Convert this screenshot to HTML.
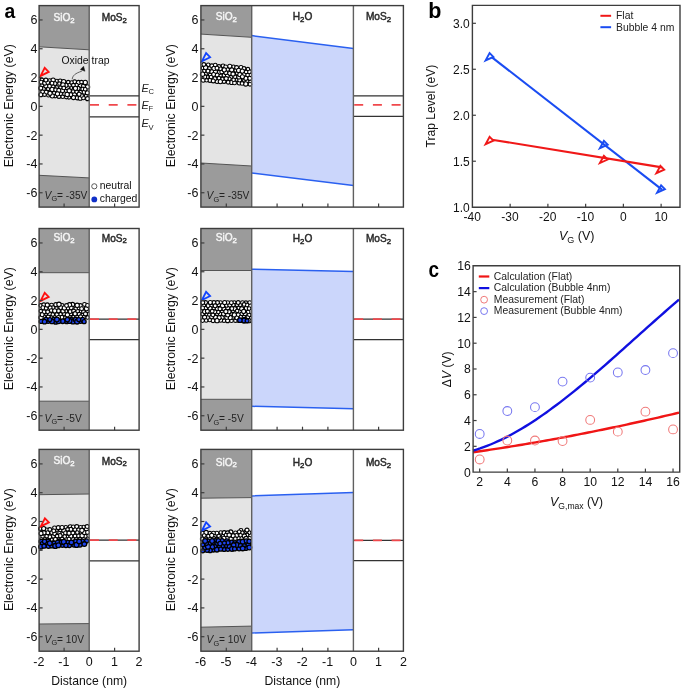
<!DOCTYPE html><html><head><meta charset="utf-8"><style>html,body{margin:0;padding:0;background:#fff;}svg{display:block;will-change:transform}</style></head><body>
<svg width="685" height="691" viewBox="0 0 685 691">
<rect width="685" height="691" fill="#fff"/>
<rect x="39.1" y="5.6" width="50.1" height="201.5" fill="#e4e4e4"/><path d="M39.1,5.6 L89.2,5.6 L89.2,49.8 L39.1,46.8 Z" fill="#9b9b9b"/><path d="M39.1,175.3 L89.2,177.9 L89.2,207.1 L39.1,207.1 Z" fill="#9b9b9b"/><path d="M39.1,46.8 L89.2,49.8 M39.1,175.3 L89.2,177.9" stroke="#555" stroke-width="1" fill="none"/>
<path d="M89.2,95.8 L139.1,95.8 M89.2,116.8 L139.1,116.8" stroke="#333" stroke-width="1.3" fill="none"/><path d="M90.0,104.8 L139.1,104.8" stroke="#f0484c" stroke-width="1.8" stroke-dasharray="9 9.7" fill="none"/>
<g stroke="#000" stroke-width="1.1" fill="#fff"><circle cx="74.48" cy="94.29" r="2.08"/><circle cx="56.93" cy="81.15" r="1.88"/><circle cx="65.97" cy="90.69" r="2.05"/><circle cx="77.35" cy="97.76" r="2.09"/><circle cx="41.88" cy="79.88" r="1.80"/><circle cx="70.81" cy="87.83" r="1.87"/><circle cx="41.95" cy="85.99" r="2.17"/><circle cx="73.19" cy="91.44" r="1.72"/><circle cx="69.18" cy="85.19" r="2.11"/><circle cx="58.95" cy="96.42" r="1.96"/><circle cx="54.05" cy="93.16" r="1.79"/><circle cx="43.71" cy="88.56" r="1.91"/><circle cx="46.28" cy="92.41" r="2.14"/><circle cx="60.14" cy="81.06" r="2.10"/><circle cx="68.91" cy="97.22" r="1.94"/><circle cx="66.33" cy="97.02" r="1.86"/><circle cx="74.64" cy="81.86" r="1.96"/><circle cx="67.33" cy="87.71" r="2.04"/><circle cx="60.66" cy="87.59" r="1.86"/><circle cx="84.14" cy="92.21" r="2.03"/><circle cx="40.77" cy="88.16" r="2.00"/><circle cx="49.64" cy="80.78" r="2.00"/><circle cx="55.13" cy="96.11" r="1.79"/><circle cx="53.14" cy="80.10" r="2.12"/><circle cx="73.47" cy="97.59" r="2.05"/><circle cx="71.55" cy="82.45" r="1.74"/><circle cx="80.49" cy="85.46" r="2.10"/><circle cx="78.10" cy="88.44" r="2.02"/><circle cx="59.35" cy="83.57" r="1.72"/><circle cx="78.46" cy="82.46" r="2.08"/><circle cx="86.30" cy="96.20" r="1.95"/><circle cx="48.44" cy="95.23" r="1.83"/><circle cx="87.54" cy="98.64" r="2.01"/><circle cx="76.54" cy="85.06" r="1.75"/><circle cx="55.05" cy="83.59" r="1.91"/><circle cx="53.18" cy="86.79" r="1.86"/><circle cx="48.12" cy="88.86" r="1.74"/><circle cx="65.87" cy="85.21" r="2.15"/><circle cx="80.29" cy="98.14" r="2.13"/><circle cx="85.24" cy="82.44" r="2.17"/><circle cx="42.58" cy="91.84" r="1.88"/><circle cx="62.70" cy="96.72" r="1.75"/><circle cx="40.83" cy="94.77" r="2.00"/><circle cx="41.24" cy="82.15" r="1.85"/><circle cx="83.40" cy="97.89" r="1.82"/><circle cx="80.53" cy="92.15" r="1.74"/><circle cx="44.54" cy="94.65" r="1.72"/><circle cx="52.08" cy="89.40" r="2.16"/><circle cx="45.82" cy="86.00" r="1.99"/><circle cx="44.80" cy="83.07" r="2.09"/><circle cx="56.79" cy="87.33" r="1.73"/><circle cx="49.51" cy="86.17" r="1.86"/><circle cx="62.45" cy="90.67" r="2.16"/><circle cx="55.72" cy="89.79" r="1.93"/><circle cx="87.36" cy="92.81" r="2.06"/><circle cx="60.66" cy="93.76" r="1.81"/><circle cx="83.33" cy="86.55" r="2.04"/><circle cx="51.98" cy="83.14" r="1.88"/><circle cx="69.20" cy="90.77" r="2.17"/><circle cx="64.63" cy="93.88" r="1.85"/><circle cx="63.70" cy="81.71" r="2.15"/><circle cx="73.39" cy="85.21" r="1.85"/><circle cx="62.99" cy="84.88" r="2.18"/><circle cx="82.70" cy="88.97" r="1.82"/><circle cx="47.75" cy="82.60" r="1.85"/><circle cx="52.26" cy="95.84" r="2.11"/><circle cx="76.65" cy="91.76" r="1.73"/><circle cx="63.78" cy="87.94" r="1.83"/><circle cx="58.79" cy="90.41" r="1.99"/><circle cx="81.53" cy="95.45" r="1.87"/><circle cx="70.79" cy="94.70" r="1.91"/><circle cx="67.15" cy="94.48" r="2.18"/><circle cx="87.54" cy="86.88" r="2.14"/><circle cx="45.88" cy="80.09" r="1.96"/><circle cx="79.09" cy="94.31" r="2.00"/><circle cx="81.47" cy="82.12" r="1.78"/><circle cx="57.47" cy="93.85" r="2.14"/><circle cx="68.19" cy="82.12" r="1.72"/><circle cx="50.02" cy="93.20" r="2.12"/><circle cx="75.43" cy="88.37" r="2.12"/><circle cx="85.23" cy="89.29" r="1.81"/></g>
<path d="M40.60,75.90 L44.70,67.80 L48.70,71.90 Z" fill="none" stroke="#ff1010" stroke-width="1.8" stroke-linejoin="miter"/>
<path d="M39.1,19.95 L42.6,19.95" stroke="#3d3d3d" stroke-width="1.2"/><path d="M39.1,48.75 L42.6,48.75" stroke="#3d3d3d" stroke-width="1.2"/><path d="M39.1,77.55 L42.6,77.55" stroke="#3d3d3d" stroke-width="1.2"/><path d="M39.1,106.35 L42.6,106.35" stroke="#3d3d3d" stroke-width="1.2"/><path d="M39.1,135.15 L42.6,135.15" stroke="#3d3d3d" stroke-width="1.2"/><path d="M39.1,163.95 L42.6,163.95" stroke="#3d3d3d" stroke-width="1.2"/><path d="M39.1,192.75 L42.6,192.75" stroke="#3d3d3d" stroke-width="1.2"/><path d="M64.1,207.1 L64.1,203.6" stroke="#3d3d3d" stroke-width="1.2"/><path d="M114.6,207.1 L114.6,203.6" stroke="#3d3d3d" stroke-width="1.2"/><path d="M89.2,5.6 L89.2,207.1" stroke="#606060" stroke-width="1.4"/><rect x="39.1" y="5.6" width="100.0" height="201.5" fill="none" stroke="#3d3d3d" stroke-width="1.4"/>
<g font-family='"Liberation Sans", sans-serif' font-size="12.5" fill="#111" text-anchor="end"><text x="37.4" y="24.35">6</text><text x="37.4" y="53.15">4</text><text x="37.4" y="81.95">2</text><text x="37.4" y="110.75">0</text><text x="37.4" y="139.55">-2</text><text x="37.4" y="168.35">-4</text><text x="37.4" y="197.15">-6</text></g>
<text transform="translate(12.6,105.64999999999999) rotate(-90)" text-anchor="middle" font-family='"Liberation Sans", sans-serif' font-size="12.3" fill="#111">Electronic Energy (eV)</text>
<text x="64.0" y="21.1" text-anchor="middle" font-family='"Liberation Sans", sans-serif' font-size="10.15" fill="#f4f4f4" stroke="#f4f4f4" stroke-width="0.45">SiO<tspan font-size="7.8" dy="1.8">2</tspan><tspan dy="-1.8"></tspan></text>
<text x="114.3" y="21.3" text-anchor="middle" font-family='"Liberation Sans", sans-serif' font-size="10.15" fill="#2a2a2a" stroke="#2a2a2a" stroke-width="0.45">MoS<tspan font-size="7.8" dy="1.8">2</tspan><tspan dy="-1.8"></tspan></text>
<text x="44.6" y="199.1" font-family='"Liberation Sans", sans-serif' font-size="10.2" fill="#222"><tspan font-style="italic">V</tspan><tspan font-size="7.3" dy="2.2">G</tspan><tspan dy="-2.2">= -35V</tspan></text>
<rect x="39.1" y="228.5" width="50.1" height="201.7" fill="#e4e4e4"/><path d="M39.1,228.5 L89.2,228.5 L89.2,272.7 L39.1,272.7 Z" fill="#9b9b9b"/><path d="M39.1,401.2 L89.2,401.2 L89.2,430.2 L39.1,430.2 Z" fill="#9b9b9b"/><path d="M39.1,272.7 L89.2,272.7 M39.1,401.2 L89.2,401.2" stroke="#555" stroke-width="1" fill="none"/>
<path d="M89.2,319.2 L139.1,319.2 M89.2,339.6 L139.1,339.6" stroke="#333" stroke-width="1.3" fill="none"/><path d="M90.0,319.2 L139.1,319.2" stroke="#f0484c" stroke-width="1.8" stroke-dasharray="9 9.7" fill="none"/>
<g stroke="#000" stroke-width="1.1" fill="#fff"><circle cx="61.99" cy="305.72" r="2.15"/><circle cx="82.26" cy="314.95" r="1.84"/><circle cx="60.80" cy="307.75" r="2.02"/><circle cx="60.50" cy="314.32" r="1.92"/><circle cx="54.78" cy="317.44" r="1.88"/><circle cx="51.42" cy="317.44" r="1.77"/><circle cx="70.76" cy="313.84" r="2.05"/><circle cx="61.87" cy="317.44" r="2.03"/><circle cx="67.98" cy="308.22" r="1.74"/><circle cx="73.83" cy="317.31" r="2.18"/><circle cx="84.53" cy="304.44" r="1.92"/><circle cx="45.61" cy="314.79" r="1.76"/><circle cx="78.82" cy="308.75" r="1.97"/><circle cx="51.56" cy="305.08" r="1.85"/><circle cx="69.34" cy="316.86" r="1.81"/><circle cx="46.09" cy="308.20" r="1.89"/><circle cx="44.10" cy="311.92" r="1.99"/><circle cx="53.26" cy="307.62" r="1.82"/><circle cx="70.18" cy="311.60" r="1.95"/><circle cx="80.40" cy="305.51" r="1.92"/><circle cx="80.11" cy="311.82" r="2.00"/><circle cx="65.50" cy="317.44" r="1.77"/><circle cx="49.46" cy="313.68" r="2.06"/><circle cx="47.66" cy="311.85" r="1.88"/><circle cx="55.83" cy="304.69" r="2.03"/><circle cx="72.51" cy="304.53" r="2.16"/><circle cx="44.04" cy="317.10" r="2.06"/><circle cx="41.05" cy="317.44" r="2.16"/><circle cx="40.77" cy="305.45" r="1.86"/><circle cx="56.47" cy="308.46" r="1.78"/><circle cx="87.34" cy="310.91" r="1.76"/><circle cx="65.78" cy="311.33" r="1.99"/><circle cx="56.94" cy="314.60" r="1.97"/><circle cx="64.30" cy="313.77" r="1.94"/><circle cx="40.77" cy="311.08" r="1.73"/><circle cx="62.95" cy="310.95" r="2.07"/><circle cx="77.41" cy="311.30" r="2.08"/><circle cx="71.23" cy="307.81" r="1.94"/><circle cx="86.44" cy="308.66" r="2.10"/><circle cx="67.40" cy="314.85" r="2.16"/><circle cx="79.19" cy="314.23" r="1.88"/><circle cx="58.43" cy="317.44" r="2.01"/><circle cx="48.19" cy="317.16" r="2.04"/><circle cx="76.68" cy="317.44" r="2.12"/><circle cx="87.54" cy="305.45" r="1.91"/><circle cx="69.49" cy="304.82" r="2.15"/><circle cx="42.17" cy="314.76" r="1.95"/><circle cx="43.85" cy="304.87" r="1.99"/><circle cx="83.61" cy="311.85" r="1.94"/><circle cx="80.63" cy="316.90" r="1.99"/><circle cx="58.44" cy="310.89" r="2.00"/><circle cx="87.54" cy="317.44" r="1.81"/><circle cx="75.57" cy="308.65" r="1.74"/><circle cx="64.38" cy="307.93" r="2.15"/><circle cx="50.16" cy="307.80" r="1.89"/><circle cx="77.19" cy="305.33" r="2.17"/><circle cx="47.27" cy="304.97" r="2.08"/><circle cx="84.15" cy="316.99" r="1.76"/><circle cx="85.49" cy="313.90" r="2.01"/><circle cx="51.22" cy="310.59" r="1.78"/><circle cx="81.60" cy="308.65" r="1.92"/><circle cx="52.82" cy="314.38" r="1.76"/><circle cx="66.53" cy="305.54" r="1.90"/><circle cx="73.64" cy="311.05" r="1.90"/><circle cx="54.74" cy="310.86" r="2.12"/><circle cx="75.07" cy="313.67" r="2.05"/><circle cx="42.83" cy="307.64" r="1.84"/><circle cx="58.97" cy="304.34" r="2.18"/></g>
<g stroke="#000" stroke-width="1.3" fill="#1e44f0"><circle cx="71.13" cy="319.56" r="2.27"/><circle cx="72.95" cy="321.64" r="2.22"/><circle cx="80.68" cy="321.36" r="2.00"/><circle cx="66.66" cy="321.64" r="2.05"/><circle cx="75.55" cy="319.56" r="2.30"/><circle cx="77.07" cy="321.64" r="2.37"/><circle cx="82.60" cy="319.56" r="2.19"/><circle cx="48.08" cy="321.31" r="2.07"/><circle cx="55.74" cy="321.64" r="2.43"/><circle cx="53.83" cy="319.56" r="2.22"/><circle cx="62.65" cy="321.22" r="2.29"/><circle cx="69.46" cy="320.95" r="2.45"/><circle cx="78.78" cy="319.56" r="2.01"/><circle cx="45.93" cy="319.56" r="2.17"/><circle cx="58.57" cy="321.27" r="2.32"/><circle cx="84.11" cy="321.64" r="2.01"/><circle cx="52.01" cy="321.39" r="2.29"/><circle cx="49.81" cy="319.56" r="1.99"/><circle cx="56.92" cy="319.56" r="2.37"/><circle cx="41.17" cy="321.41" r="2.04"/><circle cx="44.53" cy="321.63" r="2.19"/><circle cx="67.35" cy="319.56" r="2.22"/></g>
<path d="M40.60,300.90 L44.70,292.80 L48.70,296.90 Z" fill="none" stroke="#ff1010" stroke-width="1.8" stroke-linejoin="miter"/>
<path d="M39.1,242.95 L42.6,242.95" stroke="#3d3d3d" stroke-width="1.2"/><path d="M39.1,271.75 L42.6,271.75" stroke="#3d3d3d" stroke-width="1.2"/><path d="M39.1,300.55 L42.6,300.55" stroke="#3d3d3d" stroke-width="1.2"/><path d="M39.1,329.35 L42.6,329.35" stroke="#3d3d3d" stroke-width="1.2"/><path d="M39.1,358.15 L42.6,358.15" stroke="#3d3d3d" stroke-width="1.2"/><path d="M39.1,386.95 L42.6,386.95" stroke="#3d3d3d" stroke-width="1.2"/><path d="M39.1,415.75 L42.6,415.75" stroke="#3d3d3d" stroke-width="1.2"/><path d="M64.1,430.2 L64.1,426.7" stroke="#3d3d3d" stroke-width="1.2"/><path d="M114.6,430.2 L114.6,426.7" stroke="#3d3d3d" stroke-width="1.2"/><path d="M89.2,228.5 L89.2,430.2" stroke="#606060" stroke-width="1.4"/><rect x="39.1" y="228.5" width="100.0" height="201.7" fill="none" stroke="#3d3d3d" stroke-width="1.4"/>
<g font-family='"Liberation Sans", sans-serif' font-size="12.5" fill="#111" text-anchor="end"><text x="37.4" y="247.35">6</text><text x="37.4" y="276.15">4</text><text x="37.4" y="304.95">2</text><text x="37.4" y="333.75">0</text><text x="37.4" y="362.55">-2</text><text x="37.4" y="391.35">-4</text><text x="37.4" y="420.15">-6</text></g>
<text transform="translate(12.6,328.65000000000003) rotate(-90)" text-anchor="middle" font-family='"Liberation Sans", sans-serif' font-size="12.3" fill="#111">Electronic Energy (eV)</text>
<text x="64.0" y="241.4" text-anchor="middle" font-family='"Liberation Sans", sans-serif' font-size="10.15" fill="#f4f4f4" stroke="#f4f4f4" stroke-width="0.45">SiO<tspan font-size="7.8" dy="1.8">2</tspan><tspan dy="-1.8"></tspan></text>
<text x="114.3" y="241.6" text-anchor="middle" font-family='"Liberation Sans", sans-serif' font-size="10.15" fill="#2a2a2a" stroke="#2a2a2a" stroke-width="0.45">MoS<tspan font-size="7.8" dy="1.8">2</tspan><tspan dy="-1.8"></tspan></text>
<text x="44.6" y="422.2" font-family='"Liberation Sans", sans-serif' font-size="10.2" fill="#222"><tspan font-style="italic">V</tspan><tspan font-size="7.3" dy="2.2">G</tspan><tspan dy="-2.2">= -5V</tspan></text>
<rect x="39.1" y="449.4" width="50.1" height="201.80000000000007" fill="#e4e4e4"/><path d="M39.1,449.4 L89.2,449.4 L89.2,494.0 L39.1,494.7 Z" fill="#9b9b9b"/><path d="M39.1,624.0 L89.2,623.6 L89.2,651.2 L39.1,651.2 Z" fill="#9b9b9b"/><path d="M39.1,494.7 L89.2,494.0 M39.1,624.0 L89.2,623.6" stroke="#555" stroke-width="1" fill="none"/>
<path d="M89.2,540.2 L139.1,540.2 M89.2,560.8 L139.1,560.8" stroke="#333" stroke-width="1.3" fill="none"/><path d="M90.0,540.2 L139.1,540.2" stroke="#f0484c" stroke-width="1.8" stroke-dasharray="9 9.7" fill="none"/>
<g stroke="#000" stroke-width="1.1" fill="#fff"><circle cx="42.57" cy="536.47" r="1.74"/><circle cx="51.69" cy="532.61" r="1.96"/><circle cx="40.77" cy="528.68" r="2.10"/><circle cx="72.73" cy="538.69" r="1.93"/><circle cx="87.46" cy="538.96" r="1.92"/><circle cx="42.99" cy="529.99" r="1.84"/><circle cx="65.81" cy="527.21" r="1.77"/><circle cx="46.67" cy="529.92" r="1.92"/><circle cx="67.27" cy="536.78" r="1.89"/><circle cx="86.34" cy="529.04" r="2.11"/><circle cx="83.51" cy="539.02" r="1.82"/><circle cx="60.37" cy="530.05" r="1.86"/><circle cx="70.25" cy="526.95" r="2.15"/><circle cx="47.63" cy="532.78" r="2.10"/><circle cx="43.99" cy="532.70" r="2.07"/><circle cx="41.36" cy="539.61" r="1.82"/><circle cx="51.46" cy="539.47" r="1.77"/><circle cx="80.94" cy="532.61" r="1.79"/><circle cx="56.93" cy="529.47" r="1.94"/><circle cx="85.22" cy="536.25" r="1.91"/><circle cx="53.31" cy="536.31" r="1.82"/><circle cx="59.18" cy="539.36" r="2.10"/><circle cx="65.41" cy="539.27" r="2.01"/><circle cx="62.24" cy="533.77" r="2.04"/><circle cx="76.16" cy="539.12" r="1.96"/><circle cx="64.70" cy="536.54" r="1.82"/><circle cx="59.38" cy="533.32" r="1.75"/><circle cx="74.99" cy="529.32" r="2.13"/><circle cx="83.52" cy="527.02" r="1.78"/><circle cx="49.79" cy="529.50" r="1.85"/><circle cx="44.89" cy="539.56" r="1.74"/><circle cx="61.92" cy="539.12" r="1.94"/><circle cx="48.60" cy="539.17" r="1.86"/><circle cx="72.77" cy="533.04" r="2.12"/><circle cx="49.64" cy="536.84" r="2.01"/><circle cx="54.58" cy="527.87" r="1.94"/><circle cx="78.56" cy="535.93" r="2.03"/><circle cx="73.22" cy="526.81" r="1.80"/><circle cx="82.09" cy="535.73" r="2.18"/><circle cx="63.90" cy="530.57" r="2.08"/><circle cx="65.48" cy="532.89" r="1.84"/><circle cx="70.80" cy="529.38" r="1.99"/><circle cx="43.71" cy="528.51" r="2.07"/><circle cx="54.69" cy="533.74" r="1.84"/><circle cx="70.90" cy="536.19" r="2.01"/><circle cx="80.52" cy="527.25" r="1.82"/><circle cx="76.77" cy="526.57" r="1.93"/><circle cx="69.00" cy="539.22" r="1.91"/><circle cx="87.14" cy="526.53" r="1.92"/><circle cx="46.61" cy="536.13" r="1.74"/><circle cx="58.31" cy="527.65" r="2.01"/><circle cx="67.57" cy="529.34" r="1.74"/><circle cx="78.80" cy="530.08" r="2.14"/><circle cx="55.43" cy="539.41" r="1.96"/><circle cx="77.31" cy="532.44" r="1.75"/><circle cx="84.38" cy="532.47" r="2.05"/><circle cx="41.06" cy="533.51" r="2.00"/><circle cx="60.05" cy="535.68" r="2.04"/><circle cx="53.71" cy="530.81" r="1.88"/><circle cx="79.84" cy="539.07" r="1.73"/><circle cx="62.04" cy="527.50" r="2.03"/><circle cx="69.00" cy="533.15" r="2.04"/><circle cx="75.02" cy="535.97" r="1.86"/><circle cx="87.54" cy="532.47" r="1.93"/><circle cx="57.13" cy="536.08" r="1.75"/><circle cx="81.90" cy="530.30" r="2.17"/></g>
<g stroke="#000" stroke-width="1.3" fill="#1e44f0"><circle cx="48.50" cy="545.95" r="2.33"/><circle cx="59.21" cy="541.32" r="2.34"/><circle cx="73.98" cy="545.05" r="2.12"/><circle cx="51.97" cy="545.75" r="2.22"/><circle cx="41.24" cy="541.54" r="2.19"/><circle cx="82.43" cy="541.04" r="1.99"/><circle cx="47.96" cy="541.46" r="2.27"/><circle cx="86.62" cy="540.99" r="2.04"/><circle cx="45.70" cy="543.07" r="2.11"/><circle cx="42.31" cy="543.68" r="2.05"/><circle cx="62.40" cy="545.26" r="2.11"/><circle cx="40.94" cy="546.71" r="2.30"/><circle cx="68.08" cy="542.35" r="1.99"/><circle cx="60.91" cy="542.53" r="2.29"/><circle cx="79.88" cy="544.73" r="2.39"/><circle cx="54.19" cy="543.50" r="2.46"/><circle cx="75.83" cy="541.23" r="2.18"/><circle cx="44.03" cy="546.14" r="2.06"/><circle cx="76.53" cy="544.91" r="2.46"/><circle cx="69.34" cy="545.31" r="2.23"/><circle cx="57.55" cy="542.38" r="2.03"/><circle cx="79.16" cy="541.39" r="2.35"/><circle cx="44.54" cy="541.50" r="2.08"/><circle cx="63.77" cy="541.88" r="2.42"/><circle cx="55.27" cy="545.95" r="2.46"/><circle cx="65.95" cy="545.49" r="2.05"/><circle cx="49.79" cy="543.28" r="2.38"/><circle cx="71.40" cy="542.47" r="2.28"/><circle cx="58.37" cy="545.23" r="2.43"/><circle cx="84.35" cy="544.09" r="2.36"/></g>
<path d="M40.80,526.40 L44.90,518.30 L48.90,522.40 Z" fill="none" stroke="#ff1010" stroke-width="1.8" stroke-linejoin="miter"/>
<path d="M39.1,463.90 L42.6,463.90" stroke="#3d3d3d" stroke-width="1.2"/><path d="M39.1,492.70 L42.6,492.70" stroke="#3d3d3d" stroke-width="1.2"/><path d="M39.1,521.50 L42.6,521.50" stroke="#3d3d3d" stroke-width="1.2"/><path d="M39.1,550.30 L42.6,550.30" stroke="#3d3d3d" stroke-width="1.2"/><path d="M39.1,579.10 L42.6,579.10" stroke="#3d3d3d" stroke-width="1.2"/><path d="M39.1,607.90 L42.6,607.90" stroke="#3d3d3d" stroke-width="1.2"/><path d="M39.1,636.70 L42.6,636.70" stroke="#3d3d3d" stroke-width="1.2"/><path d="M64.1,651.2 L64.1,647.7" stroke="#3d3d3d" stroke-width="1.2"/><path d="M114.6,651.2 L114.6,647.7" stroke="#3d3d3d" stroke-width="1.2"/><path d="M89.2,449.4 L89.2,651.2" stroke="#606060" stroke-width="1.4"/><rect x="39.1" y="449.4" width="100.0" height="201.80000000000007" fill="none" stroke="#3d3d3d" stroke-width="1.4"/>
<g font-family='"Liberation Sans", sans-serif' font-size="12.5" fill="#111" text-anchor="end"><text x="37.4" y="468.30">6</text><text x="37.4" y="497.10">4</text><text x="37.4" y="525.90">2</text><text x="37.4" y="554.70">0</text><text x="37.4" y="583.50">-2</text><text x="37.4" y="612.30">-4</text><text x="37.4" y="641.10">-6</text></g>
<text transform="translate(12.6,549.5999999999999) rotate(-90)" text-anchor="middle" font-family='"Liberation Sans", sans-serif' font-size="12.3" fill="#111">Electronic Energy (eV)</text>
<text x="64.0" y="464.4" text-anchor="middle" font-family='"Liberation Sans", sans-serif' font-size="10.15" fill="#f4f4f4" stroke="#f4f4f4" stroke-width="0.45">SiO<tspan font-size="7.8" dy="1.8">2</tspan><tspan dy="-1.8"></tspan></text>
<text x="114.3" y="464.59999999999997" text-anchor="middle" font-family='"Liberation Sans", sans-serif' font-size="10.15" fill="#2a2a2a" stroke="#2a2a2a" stroke-width="0.45">MoS<tspan font-size="7.8" dy="1.8">2</tspan><tspan dy="-1.8"></tspan></text>
<text x="44.6" y="643.2" font-family='"Liberation Sans", sans-serif' font-size="10.2" fill="#222"><tspan font-style="italic">V</tspan><tspan font-size="7.3" dy="2.2">G</tspan><tspan dy="-2.2">= 10V</tspan></text>
<rect x="200.9" y="5.6" width="50.79999999999998" height="201.5" fill="#e4e4e4"/><path d="M200.9,5.6 L251.7,5.6 L251.7,37.3 L200.9,34.1 Z" fill="#9b9b9b"/><path d="M200.9,163.0 L251.7,166.0 L251.7,207.1 L200.9,207.1 Z" fill="#9b9b9b"/><path d="M200.9,34.1 L251.7,37.3 M200.9,163.0 L251.7,166.0" stroke="#555" stroke-width="1" fill="none"/>
<path d="M251.7,35.6 L353.4,48.6 L353.4,185.5 L251.7,172.9 Z" fill="#cbd6fb"/><path d="M251.7,35.6 L353.4,48.6 M251.7,172.9 L353.4,185.5" stroke="#2a60f0" stroke-width="1.5" fill="none"/>
<path d="M353.4,95.9 L403.4,95.9 M353.4,116.4 L403.4,116.4" stroke="#333" stroke-width="1.3" fill="none"/><path d="M354.2,104.9 L403.4,104.9" stroke="#f0484c" stroke-width="1.8" stroke-dasharray="9 9.7" fill="none"/>
<g stroke="#000" stroke-width="1.1" fill="#fff"><circle cx="224.01" cy="81.40" r="1.95"/><circle cx="209.94" cy="80.29" r="2.06"/><circle cx="227.52" cy="69.40" r="1.93"/><circle cx="231.65" cy="82.38" r="2.13"/><circle cx="223.02" cy="65.79" r="1.85"/><circle cx="224.06" cy="75.23" r="1.88"/><circle cx="210.12" cy="75.03" r="1.78"/><circle cx="207.38" cy="76.94" r="1.81"/><circle cx="244.20" cy="74.23" r="2.12"/><circle cx="231.25" cy="76.95" r="1.79"/><circle cx="217.07" cy="81.29" r="2.18"/><circle cx="235.01" cy="76.89" r="2.01"/><circle cx="249.19" cy="71.62" r="2.12"/><circle cx="237.33" cy="79.74" r="1.85"/><circle cx="222.45" cy="79.01" r="1.76"/><circle cx="203.24" cy="80.03" r="2.15"/><circle cx="249.61" cy="78.33" r="2.05"/><circle cx="241.00" cy="67.48" r="2.01"/><circle cx="220.32" cy="75.39" r="1.88"/><circle cx="237.41" cy="73.18" r="1.99"/><circle cx="218.99" cy="72.45" r="2.06"/><circle cx="234.50" cy="82.89" r="1.90"/><circle cx="214.99" cy="78.62" r="1.97"/><circle cx="217.07" cy="74.93" r="2.02"/><circle cx="211.80" cy="65.92" r="2.04"/><circle cx="229.36" cy="78.83" r="1.78"/><circle cx="235.63" cy="70.37" r="1.78"/><circle cx="208.19" cy="64.80" r="1.77"/><circle cx="203.03" cy="68.11" r="1.89"/><circle cx="221.70" cy="71.97" r="1.89"/><circle cx="239.24" cy="82.82" r="2.13"/><circle cx="219.00" cy="66.59" r="1.94"/><circle cx="225.88" cy="72.66" r="1.96"/><circle cx="229.74" cy="73.50" r="2.04"/><circle cx="239.67" cy="79.99" r="1.98"/><circle cx="205.66" cy="73.98" r="1.77"/><circle cx="247.58" cy="75.06" r="1.80"/><circle cx="233.47" cy="66.86" r="1.79"/><circle cx="231.67" cy="69.83" r="2.13"/><circle cx="204.35" cy="70.87" r="1.73"/><circle cx="215.27" cy="71.46" r="2.17"/><circle cx="218.94" cy="78.15" r="1.80"/><circle cx="233.03" cy="73.95" r="2.10"/><circle cx="249.98" cy="84.31" r="1.83"/><circle cx="243.98" cy="68.43" r="1.85"/><circle cx="238.93" cy="76.89" r="2.15"/><circle cx="247.93" cy="69.07" r="1.73"/><circle cx="205.58" cy="67.56" r="2.14"/><circle cx="203.82" cy="64.51" r="1.86"/><circle cx="225.67" cy="66.84" r="1.89"/><circle cx="204.57" cy="76.76" r="2.18"/><circle cx="202.57" cy="74.21" r="2.17"/><circle cx="213.99" cy="68.39" r="2.16"/><circle cx="211.65" cy="71.71" r="1.90"/><circle cx="236.64" cy="67.54" r="1.94"/><circle cx="244.52" cy="80.43" r="1.95"/><circle cx="213.27" cy="80.95" r="1.97"/><circle cx="215.26" cy="65.03" r="1.81"/><circle cx="209.37" cy="68.54" r="1.86"/><circle cx="246.15" cy="71.90" r="1.76"/><circle cx="239.91" cy="74.59" r="2.16"/><circle cx="246.98" cy="81.20" r="1.86"/><circle cx="233.57" cy="79.76" r="1.76"/><circle cx="206.57" cy="80.33" r="1.72"/><circle cx="238.64" cy="70.39" r="2.14"/><circle cx="228.14" cy="82.31" r="1.80"/><circle cx="245.76" cy="83.92" r="2.18"/><circle cx="245.79" cy="78.34" r="2.06"/><circle cx="220.46" cy="68.72" r="1.76"/><circle cx="227.22" cy="76.19" r="1.91"/><circle cx="216.97" cy="68.20" r="1.90"/><circle cx="242.40" cy="76.82" r="2.00"/><circle cx="242.05" cy="83.40" r="1.81"/><circle cx="224.25" cy="69.87" r="2.06"/><circle cx="220.35" cy="81.59" r="2.13"/><circle cx="207.98" cy="71.05" r="1.92"/><circle cx="211.10" cy="77.04" r="1.83"/><circle cx="226.17" cy="78.62" r="2.04"/><circle cx="229.78" cy="66.34" r="2.03"/><circle cx="213.62" cy="74.50" r="1.93"/><circle cx="242.29" cy="71.09" r="2.12"/></g>
<path d="M202.00,61.20 L206.10,53.10 L210.10,57.20 Z" fill="none" stroke="#1244ff" stroke-width="1.8" stroke-linejoin="miter"/>
<path d="M200.9,19.95 L204.4,19.95" stroke="#3d3d3d" stroke-width="1.2"/><path d="M200.9,48.75 L204.4,48.75" stroke="#3d3d3d" stroke-width="1.2"/><path d="M200.9,77.55 L204.4,77.55" stroke="#3d3d3d" stroke-width="1.2"/><path d="M200.9,106.35 L204.4,106.35" stroke="#3d3d3d" stroke-width="1.2"/><path d="M200.9,135.15 L204.4,135.15" stroke="#3d3d3d" stroke-width="1.2"/><path d="M200.9,163.95 L204.4,163.95" stroke="#3d3d3d" stroke-width="1.2"/><path d="M200.9,192.75 L204.4,192.75" stroke="#3d3d3d" stroke-width="1.2"/><path d="M226.3,207.1 L226.3,203.6" stroke="#3d3d3d" stroke-width="1.2"/><path d="M277.1,207.1 L277.1,203.6" stroke="#3d3d3d" stroke-width="1.2"/><path d="M302.5,207.1 L302.5,203.6" stroke="#3d3d3d" stroke-width="1.2"/><path d="M327.9,207.1 L327.9,203.6" stroke="#3d3d3d" stroke-width="1.2"/><path d="M378.6,207.1 L378.6,203.6" stroke="#3d3d3d" stroke-width="1.2"/><path d="M251.7,5.6 L251.7,207.1" stroke="#606060" stroke-width="1.4"/><path d="M353.4,5.6 L353.4,207.1" stroke="#606060" stroke-width="1.4"/><rect x="200.9" y="5.6" width="202.49999999999997" height="201.5" fill="none" stroke="#3d3d3d" stroke-width="1.4"/>
<g font-family='"Liberation Sans", sans-serif' font-size="12.5" fill="#111" text-anchor="end"><text x="198.4" y="24.35">6</text><text x="198.4" y="53.15">4</text><text x="198.4" y="81.95">2</text><text x="198.4" y="110.75">0</text><text x="198.4" y="139.55">-2</text><text x="198.4" y="168.35">-4</text><text x="198.4" y="197.15">-6</text></g>
<text transform="translate(174.7,105.75) rotate(-90)" text-anchor="middle" font-family='"Liberation Sans", sans-serif' font-size="12.3" fill="#111">Electronic Energy (eV)</text>
<text x="226.3" y="19.8" text-anchor="middle" font-family='"Liberation Sans", sans-serif' font-size="10.15" fill="#f4f4f4" stroke="#f4f4f4" stroke-width="0.45">SiO<tspan font-size="7.8" dy="1.8">2</tspan><tspan dy="-1.8"></tspan></text>
<text x="302.5" y="20.2" text-anchor="middle" font-family='"Liberation Sans", sans-serif' font-size="10.15" fill="#2a2a2a" stroke="#2a2a2a" stroke-width="0.45">H<tspan font-size="7.8" dy="1.8">2</tspan><tspan dy="-1.8">O</tspan></text>
<text x="378.5" y="20.2" text-anchor="middle" font-family='"Liberation Sans", sans-serif' font-size="10.15" fill="#2a2a2a" stroke="#2a2a2a" stroke-width="0.45">MoS<tspan font-size="7.8" dy="1.8">2</tspan><tspan dy="-1.8"></tspan></text>
<text x="206.6" y="199.29999999999998" font-family='"Liberation Sans", sans-serif' font-size="10.2" fill="#222"><tspan font-style="italic">V</tspan><tspan font-size="7.3" dy="2.2">G</tspan><tspan dy="-2.2">= -35V</tspan></text>
<rect x="200.9" y="228.5" width="50.79999999999998" height="201.7" fill="#e4e4e4"/><path d="M200.9,228.5 L251.7,228.5 L251.7,270.5 L200.9,270.5 Z" fill="#9b9b9b"/><path d="M200.9,399.3 L251.7,399.3 L251.7,430.2 L200.9,430.2 Z" fill="#9b9b9b"/><path d="M200.9,270.5 L251.7,270.5 M200.9,399.3 L251.7,399.3" stroke="#555" stroke-width="1" fill="none"/>
<path d="M251.7,269.2 L353.4,271.4 L353.4,408.7 L251.7,406.3 Z" fill="#cbd6fb"/><path d="M251.7,269.2 L353.4,271.4 M251.7,406.3 L353.4,408.7" stroke="#2a60f0" stroke-width="1.5" fill="none"/>
<path d="M353.4,319.2 L403.4,319.2 M353.4,339.6 L403.4,339.6" stroke="#333" stroke-width="1.3" fill="none"/><path d="M354.2,319.2 L403.4,319.2" stroke="#f0484c" stroke-width="1.8" stroke-dasharray="9 9.7" fill="none"/>
<g stroke="#000" stroke-width="1.1" fill="#fff"><circle cx="246.40" cy="308.16" r="2.08"/><circle cx="222.31" cy="311.74" r="2.10"/><circle cx="213.77" cy="308.35" r="1.91"/><circle cx="203.70" cy="305.65" r="1.96"/><circle cx="206.86" cy="315.08" r="2.04"/><circle cx="205.56" cy="308.64" r="2.13"/><circle cx="238.34" cy="314.95" r="2.13"/><circle cx="213.03" cy="320.64" r="1.94"/><circle cx="216.81" cy="314.11" r="1.72"/><circle cx="209.65" cy="319.97" r="1.76"/><circle cx="220.47" cy="302.62" r="1.86"/><circle cx="218.78" cy="304.88" r="1.73"/><circle cx="217.22" cy="308.80" r="2.06"/><circle cx="231.40" cy="314.53" r="1.72"/><circle cx="231.45" cy="320.64" r="1.83"/><circle cx="238.33" cy="320.45" r="1.90"/><circle cx="232.58" cy="317.21" r="2.10"/><circle cx="202.57" cy="314.08" r="1.88"/><circle cx="234.31" cy="302.56" r="1.75"/><circle cx="223.97" cy="320.64" r="1.73"/><circle cx="233.15" cy="310.80" r="1.83"/><circle cx="221.95" cy="317.52" r="2.17"/><circle cx="227.57" cy="307.69" r="2.15"/><circle cx="238.75" cy="307.92" r="1.81"/><circle cx="240.95" cy="316.89" r="1.84"/><circle cx="226.54" cy="305.27" r="1.99"/><circle cx="234.37" cy="314.91" r="2.15"/><circle cx="245.91" cy="302.62" r="1.75"/><circle cx="217.43" cy="302.56" r="1.95"/><circle cx="220.04" cy="313.83" r="1.73"/><circle cx="244.17" cy="317.56" r="2.03"/><circle cx="234.75" cy="308.75" r="2.15"/><circle cx="223.89" cy="308.87" r="1.97"/><circle cx="249.00" cy="315.00" r="1.97"/><circle cx="240.24" cy="304.75" r="1.80"/><circle cx="205.61" cy="302.56" r="1.91"/><circle cx="229.74" cy="305.09" r="1.98"/><circle cx="204.73" cy="311.51" r="2.18"/><circle cx="248.15" cy="311.99" r="1.80"/><circle cx="249.67" cy="302.56" r="1.83"/><circle cx="211.29" cy="305.75" r="1.91"/><circle cx="233.42" cy="304.97" r="1.74"/><circle cx="210.06" cy="308.38" r="1.97"/><circle cx="246.97" cy="304.98" r="1.90"/><circle cx="209.31" cy="315.03" r="1.78"/><circle cx="207.60" cy="317.62" r="1.84"/><circle cx="239.80" cy="311.28" r="1.93"/><circle cx="208.12" cy="305.64" r="1.85"/><circle cx="204.61" cy="317.24" r="2.08"/><circle cx="213.93" cy="302.56" r="1.92"/><circle cx="242.22" cy="320.29" r="2.02"/><circle cx="242.46" cy="302.56" r="1.86"/><circle cx="222.52" cy="305.66" r="2.12"/><circle cx="227.59" cy="320.64" r="2.00"/><circle cx="207.38" cy="311.33" r="1.98"/><circle cx="247.53" cy="317.83" r="2.09"/><circle cx="230.24" cy="317.61" r="2.09"/><circle cx="211.61" cy="316.90" r="1.86"/><circle cx="215.56" cy="317.20" r="2.06"/><circle cx="235.44" cy="320.64" r="1.73"/><circle cx="241.76" cy="308.73" r="2.10"/><circle cx="218.26" cy="312.00" r="1.77"/><circle cx="212.86" cy="314.84" r="1.88"/><circle cx="231.34" cy="302.70" r="1.88"/><circle cx="220.66" cy="320.26" r="1.96"/><circle cx="226.64" cy="317.62" r="1.92"/><circle cx="214.89" cy="311.82" r="1.94"/><circle cx="223.52" cy="313.99" r="1.96"/><circle cx="202.57" cy="320.58" r="1.88"/><circle cx="236.92" cy="304.69" r="1.75"/><circle cx="227.75" cy="302.56" r="1.77"/><circle cx="224.65" cy="302.56" r="2.05"/><circle cx="202.75" cy="302.56" r="1.96"/><circle cx="248.97" cy="320.64" r="2.08"/><circle cx="246.30" cy="320.64" r="2.11"/><circle cx="210.31" cy="302.56" r="2.00"/><circle cx="219.99" cy="308.85" r="1.96"/><circle cx="219.18" cy="317.69" r="2.01"/><circle cx="227.75" cy="314.84" r="2.10"/><circle cx="249.11" cy="308.48" r="1.79"/><circle cx="244.10" cy="304.45" r="1.78"/><circle cx="217.03" cy="320.64" r="2.14"/><circle cx="228.96" cy="311.74" r="2.08"/><circle cx="237.18" cy="310.87" r="1.73"/><circle cx="245.19" cy="313.82" r="1.97"/><circle cx="241.79" cy="313.83" r="1.77"/><circle cx="215.16" cy="305.78" r="1.95"/><circle cx="225.87" cy="311.43" r="2.07"/><circle cx="212.20" cy="311.22" r="1.88"/><circle cx="243.65" cy="311.40" r="2.04"/><circle cx="238.18" cy="302.56" r="1.95"/><circle cx="231.86" cy="308.58" r="1.88"/><circle cx="202.57" cy="307.91" r="1.94"/><circle cx="206.18" cy="320.49" r="1.74"/><circle cx="236.83" cy="317.94" r="1.92"/></g>
<g stroke="#000" stroke-width="1.3" fill="#1e44f0"><circle cx="244.97" cy="319.56" r="2.28"/><circle cx="244.01" cy="320.55" r="2.45"/><circle cx="247.13" cy="320.84" r="1.95"/><circle cx="239.87" cy="320.17" r="2.21"/></g>
<path d="M202.00,300.00 L206.10,291.90 L210.10,296.00 Z" fill="none" stroke="#1244ff" stroke-width="1.8" stroke-linejoin="miter"/>
<path d="M200.9,242.95 L204.4,242.95" stroke="#3d3d3d" stroke-width="1.2"/><path d="M200.9,271.75 L204.4,271.75" stroke="#3d3d3d" stroke-width="1.2"/><path d="M200.9,300.55 L204.4,300.55" stroke="#3d3d3d" stroke-width="1.2"/><path d="M200.9,329.35 L204.4,329.35" stroke="#3d3d3d" stroke-width="1.2"/><path d="M200.9,358.15 L204.4,358.15" stroke="#3d3d3d" stroke-width="1.2"/><path d="M200.9,386.95 L204.4,386.95" stroke="#3d3d3d" stroke-width="1.2"/><path d="M200.9,415.75 L204.4,415.75" stroke="#3d3d3d" stroke-width="1.2"/><path d="M226.3,430.2 L226.3,426.7" stroke="#3d3d3d" stroke-width="1.2"/><path d="M277.1,430.2 L277.1,426.7" stroke="#3d3d3d" stroke-width="1.2"/><path d="M302.5,430.2 L302.5,426.7" stroke="#3d3d3d" stroke-width="1.2"/><path d="M327.9,430.2 L327.9,426.7" stroke="#3d3d3d" stroke-width="1.2"/><path d="M378.6,430.2 L378.6,426.7" stroke="#3d3d3d" stroke-width="1.2"/><path d="M251.7,228.5 L251.7,430.2" stroke="#606060" stroke-width="1.4"/><path d="M353.4,228.5 L353.4,430.2" stroke="#606060" stroke-width="1.4"/><rect x="200.9" y="228.5" width="202.49999999999997" height="201.7" fill="none" stroke="#3d3d3d" stroke-width="1.4"/>
<g font-family='"Liberation Sans", sans-serif' font-size="12.5" fill="#111" text-anchor="end"><text x="198.4" y="247.35">6</text><text x="198.4" y="276.15">4</text><text x="198.4" y="304.95">2</text><text x="198.4" y="333.75">0</text><text x="198.4" y="362.55">-2</text><text x="198.4" y="391.35">-4</text><text x="198.4" y="420.15">-6</text></g>
<text transform="translate(174.7,328.75) rotate(-90)" text-anchor="middle" font-family='"Liberation Sans", sans-serif' font-size="12.3" fill="#111">Electronic Energy (eV)</text>
<text x="226.3" y="241.4" text-anchor="middle" font-family='"Liberation Sans", sans-serif' font-size="10.15" fill="#f4f4f4" stroke="#f4f4f4" stroke-width="0.45">SiO<tspan font-size="7.8" dy="1.8">2</tspan><tspan dy="-1.8"></tspan></text>
<text x="302.5" y="241.8" text-anchor="middle" font-family='"Liberation Sans", sans-serif' font-size="10.15" fill="#2a2a2a" stroke="#2a2a2a" stroke-width="0.45">H<tspan font-size="7.8" dy="1.8">2</tspan><tspan dy="-1.8">O</tspan></text>
<text x="378.5" y="241.8" text-anchor="middle" font-family='"Liberation Sans", sans-serif' font-size="10.15" fill="#2a2a2a" stroke="#2a2a2a" stroke-width="0.45">MoS<tspan font-size="7.8" dy="1.8">2</tspan><tspan dy="-1.8"></tspan></text>
<text x="206.6" y="422.4" font-family='"Liberation Sans", sans-serif' font-size="10.2" fill="#222"><tspan font-style="italic">V</tspan><tspan font-size="7.3" dy="2.2">G</tspan><tspan dy="-2.2">= -5V</tspan></text>
<rect x="200.9" y="449.4" width="50.79999999999998" height="201.80000000000007" fill="#e4e4e4"/><path d="M200.9,449.4 L251.7,449.4 L251.7,497.6 L200.9,498.2 Z" fill="#9b9b9b"/><path d="M200.9,627.2 L251.7,626.1 L251.7,651.2 L200.9,651.2 Z" fill="#9b9b9b"/><path d="M200.9,498.2 L251.7,497.6 M200.9,627.2 L251.7,626.1" stroke="#555" stroke-width="1" fill="none"/>
<path d="M251.7,495.9 L353.4,492.6 L353.4,629.8 L251.7,633.0 Z" fill="#cbd6fb"/><path d="M251.7,495.9 L353.4,492.6 M251.7,633.0 L353.4,629.8" stroke="#2a60f0" stroke-width="1.5" fill="none"/>
<path d="M353.4,540.3 L403.4,540.3 M353.4,560.7 L403.4,560.7" stroke="#333" stroke-width="1.3" fill="none"/><path d="M354.2,540.3 L403.4,540.3" stroke="#f0484c" stroke-width="1.8" stroke-dasharray="9 9.7" fill="none"/>
<g stroke="#000" stroke-width="1.1" fill="#fff"><circle cx="220.77" cy="532.42" r="1.74"/><circle cx="227.25" cy="538.08" r="2.12"/><circle cx="249.49" cy="538.46" r="2.03"/><circle cx="240.94" cy="530.49" r="1.92"/><circle cx="242.36" cy="532.65" r="1.73"/><circle cx="231.10" cy="538.68" r="2.06"/><circle cx="202.57" cy="533.17" r="2.07"/><circle cx="216.41" cy="538.84" r="1.94"/><circle cx="209.47" cy="538.94" r="2.17"/><circle cx="223.00" cy="536.21" r="1.78"/><circle cx="215.15" cy="535.49" r="2.04"/><circle cx="246.04" cy="531.76" r="1.90"/><circle cx="216.85" cy="533.14" r="1.95"/><circle cx="230.78" cy="531.96" r="2.09"/><circle cx="238.49" cy="538.08" r="2.05"/><circle cx="249.00" cy="532.65" r="1.93"/><circle cx="218.75" cy="536.02" r="1.78"/><circle cx="202.57" cy="539.02" r="2.16"/><circle cx="213.79" cy="538.78" r="2.12"/><circle cx="235.42" cy="532.84" r="1.78"/><circle cx="208.53" cy="536.01" r="1.93"/><circle cx="239.18" cy="531.86" r="1.79"/><circle cx="206.15" cy="532.56" r="2.18"/><circle cx="224.21" cy="532.72" r="2.05"/><circle cx="236.46" cy="535.50" r="2.05"/><circle cx="233.15" cy="535.63" r="2.05"/><circle cx="235.33" cy="538.63" r="1.79"/><circle cx="227.63" cy="532.95" r="2.10"/><circle cx="213.46" cy="533.07" r="1.88"/><circle cx="241.78" cy="538.22" r="1.83"/><circle cx="225.99" cy="534.99" r="1.74"/><circle cx="247.05" cy="534.98" r="1.81"/><circle cx="244.52" cy="536.10" r="2.17"/><circle cx="219.97" cy="538.82" r="1.89"/><circle cx="246.99" cy="530.12" r="1.99"/><circle cx="240.50" cy="535.21" r="1.74"/><circle cx="246.07" cy="538.47" r="2.10"/><circle cx="209.87" cy="533.10" r="1.74"/><circle cx="205.52" cy="538.92" r="1.88"/><circle cx="211.73" cy="535.36" r="2.13"/><circle cx="223.98" cy="538.21" r="2.03"/><circle cx="204.22" cy="535.60" r="1.81"/><circle cx="229.15" cy="535.00" r="2.16"/></g>
<g stroke="#000" stroke-width="1.3" fill="#1e44f0"><circle cx="248.39" cy="544.98" r="2.45"/><circle cx="208.06" cy="541.01" r="2.01"/><circle cx="226.80" cy="545.44" r="2.29"/><circle cx="215.11" cy="540.95" r="2.34"/><circle cx="222.05" cy="540.89" r="2.18"/><circle cx="212.95" cy="543.85" r="2.40"/><circle cx="213.37" cy="550.05" r="1.97"/><circle cx="214.85" cy="546.24" r="2.08"/><circle cx="226.82" cy="540.86" r="2.03"/><circle cx="224.12" cy="549.52" r="1.95"/><circle cx="239.13" cy="542.06" r="2.40"/><circle cx="222.09" cy="545.81" r="2.41"/><circle cx="212.12" cy="547.03" r="2.40"/><circle cx="219.50" cy="546.31" r="1.98"/><circle cx="227.87" cy="549.29" r="2.00"/><circle cx="239.16" cy="548.60" r="2.21"/><circle cx="229.34" cy="546.40" r="2.07"/><circle cx="231.56" cy="542.30" r="2.26"/><circle cx="216.89" cy="549.66" r="2.35"/><circle cx="217.28" cy="543.12" r="2.32"/><circle cx="220.66" cy="549.17" r="1.95"/><circle cx="210.08" cy="550.39" r="2.15"/><circle cx="209.83" cy="543.46" r="1.97"/><circle cx="234.94" cy="542.88" r="2.07"/><circle cx="207.03" cy="550.10" r="2.29"/><circle cx="227.90" cy="542.74" r="2.17"/><circle cx="205.06" cy="547.62" r="2.32"/><circle cx="245.67" cy="548.19" r="2.26"/><circle cx="207.99" cy="546.73" r="2.43"/><circle cx="236.84" cy="544.92" r="2.42"/><circle cx="224.35" cy="543.04" r="2.00"/><circle cx="206.40" cy="543.34" r="2.06"/><circle cx="218.36" cy="540.92" r="2.24"/><circle cx="243.88" cy="545.54" r="2.21"/><circle cx="242.72" cy="541.73" r="2.46"/><circle cx="202.77" cy="544.81" r="1.96"/><circle cx="246.39" cy="541.07" r="2.10"/><circle cx="220.08" cy="543.55" r="2.23"/><circle cx="205.09" cy="541.03" r="2.39"/><circle cx="233.69" cy="545.01" r="2.24"/><circle cx="240.49" cy="545.55" r="2.04"/><circle cx="249.34" cy="547.44" r="2.38"/><circle cx="202.74" cy="550.79" r="2.01"/><circle cx="212.09" cy="540.97" r="2.31"/><circle cx="249.18" cy="541.32" r="2.21"/><circle cx="242.69" cy="548.38" r="2.36"/><circle cx="231.96" cy="549.04" r="2.37"/><circle cx="234.63" cy="548.88" r="2.06"/></g>
<path d="M202.00,530.50 L206.10,522.40 L210.10,526.50 Z" fill="none" stroke="#1244ff" stroke-width="1.8" stroke-linejoin="miter"/>
<path d="M200.9,463.90 L204.4,463.90" stroke="#3d3d3d" stroke-width="1.2"/><path d="M200.9,492.70 L204.4,492.70" stroke="#3d3d3d" stroke-width="1.2"/><path d="M200.9,521.50 L204.4,521.50" stroke="#3d3d3d" stroke-width="1.2"/><path d="M200.9,550.30 L204.4,550.30" stroke="#3d3d3d" stroke-width="1.2"/><path d="M200.9,579.10 L204.4,579.10" stroke="#3d3d3d" stroke-width="1.2"/><path d="M200.9,607.90 L204.4,607.90" stroke="#3d3d3d" stroke-width="1.2"/><path d="M200.9,636.70 L204.4,636.70" stroke="#3d3d3d" stroke-width="1.2"/><path d="M226.3,651.2 L226.3,647.7" stroke="#3d3d3d" stroke-width="1.2"/><path d="M277.1,651.2 L277.1,647.7" stroke="#3d3d3d" stroke-width="1.2"/><path d="M302.5,651.2 L302.5,647.7" stroke="#3d3d3d" stroke-width="1.2"/><path d="M327.9,651.2 L327.9,647.7" stroke="#3d3d3d" stroke-width="1.2"/><path d="M378.6,651.2 L378.6,647.7" stroke="#3d3d3d" stroke-width="1.2"/><path d="M251.7,449.4 L251.7,651.2" stroke="#606060" stroke-width="1.4"/><path d="M353.4,449.4 L353.4,651.2" stroke="#606060" stroke-width="1.4"/><rect x="200.9" y="449.4" width="202.49999999999997" height="201.80000000000007" fill="none" stroke="#3d3d3d" stroke-width="1.4"/>
<g font-family='"Liberation Sans", sans-serif' font-size="12.5" fill="#111" text-anchor="end"><text x="198.4" y="468.30">6</text><text x="198.4" y="497.10">4</text><text x="198.4" y="525.90">2</text><text x="198.4" y="554.70">0</text><text x="198.4" y="583.50">-2</text><text x="198.4" y="612.30">-4</text><text x="198.4" y="641.10">-6</text></g>
<text transform="translate(174.7,549.6999999999999) rotate(-90)" text-anchor="middle" font-family='"Liberation Sans", sans-serif' font-size="12.3" fill="#111">Electronic Energy (eV)</text>
<text x="226.3" y="465.6" text-anchor="middle" font-family='"Liberation Sans", sans-serif' font-size="10.15" fill="#f4f4f4" stroke="#f4f4f4" stroke-width="0.45">SiO<tspan font-size="7.8" dy="1.8">2</tspan><tspan dy="-1.8"></tspan></text>
<text x="302.5" y="466.0" text-anchor="middle" font-family='"Liberation Sans", sans-serif' font-size="10.15" fill="#2a2a2a" stroke="#2a2a2a" stroke-width="0.45">H<tspan font-size="7.8" dy="1.8">2</tspan><tspan dy="-1.8">O</tspan></text>
<text x="378.5" y="466.0" text-anchor="middle" font-family='"Liberation Sans", sans-serif' font-size="10.15" fill="#2a2a2a" stroke="#2a2a2a" stroke-width="0.45">MoS<tspan font-size="7.8" dy="1.8">2</tspan><tspan dy="-1.8"></tspan></text>
<text x="206.6" y="643.4000000000001" font-family='"Liberation Sans", sans-serif' font-size="10.2" fill="#222"><tspan font-style="italic">V</tspan><tspan font-size="7.3" dy="2.2">G</tspan><tspan dy="-2.2">= 10V</tspan></text>
<text transform="translate(4.6,18) scale(0.92,1)" font-family='"Liberation Sans", sans-serif' font-size="21" font-weight="bold" fill="#000">a</text>
<text x="61.5" y="63.8" font-family='"Liberation Sans", sans-serif' font-size="10.4" fill="#111">Oxide trap</text>
<path d="M72.2,79.3 C72.6,75.6 75,73.4 81.8,71.2" fill="none" stroke="#333" stroke-width="0.75"/>
<path d="M83.6,66.2 L80.3,69.6 L85.0,71.3 Z" fill="#111" stroke="#111" stroke-width="0.4"/>
<text x="141.4" y="91.6" font-family='"Liberation Sans", sans-serif' font-size="10.8" fill="#222"><tspan font-style="italic">E</tspan><tspan font-size="7.6" dy="2.2">C</tspan></text>
<text x="141.4" y="109.1" font-family='"Liberation Sans", sans-serif' font-size="10.8" fill="#222"><tspan font-style="italic">E</tspan><tspan font-size="7.6" dy="2.2">F</tspan></text>
<text x="141.4" y="127.4" font-family='"Liberation Sans", sans-serif' font-size="10.8" fill="#222"><tspan font-style="italic">E</tspan><tspan font-size="7.6" dy="2.2">V</tspan></text>
<circle cx="94.3" cy="186.3" r="2.6" fill="#fff" stroke="#333" stroke-width="0.8"/>
<circle cx="94.3" cy="199.4" r="2.9" fill="#1030c8"/>
<text x="99.8" y="189.3" font-family='"Liberation Sans", sans-serif' font-size="10.4" fill="#111">neutral</text>
<text x="99.8" y="201.6" font-family='"Liberation Sans", sans-serif' font-size="10.4" fill="#111">charged</text>
<g font-family='"Liberation Sans", sans-serif' font-size="12.5" fill="#111" text-anchor="middle">
<text x="38.800000000000004" y="666.2">-2</text>
<text x="63.8" y="666.2">-1</text>
<text x="89.2" y="666.2">0</text>
<text x="114.6" y="666.2">1</text>
<text x="139.1" y="666.2">2</text>
<text x="200.6" y="666.2">-6</text>
<text x="226.0" y="666.2">-5</text>
<text x="251.39999999999998" y="666.2">-4</text>
<text x="276.8" y="666.2">-3</text>
<text x="302.2" y="666.2">-2</text>
<text x="327.59999999999997" y="666.2">-1</text>
<text x="353.4" y="666.2">0</text>
<text x="378.6" y="666.2">1</text>
<text x="403.4" y="666.2">2</text>
</g>
<text x="89.2" y="684.7" text-anchor="middle" font-family='"Liberation Sans", sans-serif' font-size="12.2" fill="#111">Distance (nm)</text>
<text x="302.4" y="685.2" text-anchor="middle" font-family='"Liberation Sans", sans-serif' font-size="12.2" fill="#111">Distance (nm)</text>
<text x="428.3" y="17.7" font-family='"Liberation Sans", sans-serif' font-size="21.5" font-weight="bold" fill="#000">b</text>
<path d="M492,57.3 L662,189.6" stroke="#1a4cf2" stroke-width="2.1" fill="none"/>
<path d="M492,139.7 L662,167.4" stroke="#f01818" stroke-width="2.1" fill="none"/>
<path d="M485.60,60.40 L489.60,53.10 L493.40,56.90 Z" fill="none" stroke="#1a4cf2" stroke-width="1.9"/>
<path d="M599.90,148.20 L603.90,140.90 L607.70,144.70 Z" fill="none" stroke="#1a4cf2" stroke-width="1.9"/>
<path d="M657.10,192.60 L661.10,185.30 L664.90,189.10 Z" fill="none" stroke="#1a4cf2" stroke-width="1.9"/>
<path d="M485.60,144.20 L489.60,136.90 L493.40,140.70 Z" fill="none" stroke="#f01818" stroke-width="1.9"/>
<path d="M599.90,163.00 L603.90,155.70 L607.70,159.50 Z" fill="none" stroke="#f01818" stroke-width="1.9"/>
<path d="M656.40,173.20 L660.40,165.90 L664.20,169.70 Z" fill="none" stroke="#f01818" stroke-width="1.9"/>
<path d="M472.4,5.4 L680.0,5.4 L680.0,207.2 L472.4,207.2 Z" fill="none" stroke="#3d3d3d" stroke-width="1.4"/>
<path d="M510.15,207.2 L510.15,203.7" stroke="#3d3d3d" stroke-width="1.2"/>
<path d="M547.89,207.2 L547.89,203.7" stroke="#3d3d3d" stroke-width="1.2"/>
<path d="M585.64,207.2 L585.64,203.7" stroke="#3d3d3d" stroke-width="1.2"/>
<path d="M623.38,207.2 L623.38,203.7" stroke="#3d3d3d" stroke-width="1.2"/>
<path d="M661.13,207.2 L661.13,203.7" stroke="#3d3d3d" stroke-width="1.2"/>
<path d="M472.4,161.22 L475.9,161.22" stroke="#3d3d3d" stroke-width="1.2"/>
<path d="M472.4,115.25 L475.9,115.25" stroke="#3d3d3d" stroke-width="1.2"/>
<path d="M472.4,69.27 L475.9,69.27" stroke="#3d3d3d" stroke-width="1.2"/>
<path d="M472.4,23.30 L475.9,23.30" stroke="#3d3d3d" stroke-width="1.2"/>
<g font-family='"Liberation Sans", sans-serif' font-size="12" fill="#111" text-anchor="end">
<text x="469.8" y="211.50">1.0</text>
<text x="469.8" y="165.53">1.5</text>
<text x="469.8" y="119.55">2.0</text>
<text x="469.8" y="73.57">2.5</text>
<text x="469.8" y="27.60">3.0</text>
</g>
<g font-family='"Liberation Sans", sans-serif' font-size="12" fill="#111" text-anchor="middle">
<text x="472.20" y="221">-40</text>
<text x="509.95" y="221">-30</text>
<text x="547.69" y="221">-20</text>
<text x="585.44" y="221">-10</text>
<text x="623.38" y="221">0</text>
<text x="661.13" y="221">10</text>
</g>
<text transform="translate(435.0,106.1) rotate(-90)" text-anchor="middle" font-family='"Liberation Sans", sans-serif' font-size="12.1" fill="#111">Trap Level (eV)</text>
<text x="559" y="240" font-family='"Liberation Sans", sans-serif' font-size="12.5" fill="#111"><tspan font-style="italic">V</tspan><tspan font-size="9" dy="2.6">G</tspan><tspan dy="-2.6"> (V)</tspan></text>
<path d="M600.4,15.8 L611.1,15.8" stroke="#f01818" stroke-width="2"/>
<path d="M600.4,27.2 L611.1,27.2" stroke="#1a4cf2" stroke-width="2"/>
<text x="616" y="19.4" font-family='"Liberation Sans", sans-serif' font-size="10.4" fill="#222">Flat</text>
<text x="616" y="30.8" font-family='"Liberation Sans", sans-serif' font-size="10.4" fill="#222">Bubble 4 nm</text>
<text transform="translate(428.6,276.5) scale(0.88,1)" font-family='"Liberation Sans", sans-serif' font-size="21.5" font-weight="bold" fill="#000">c</text>
<path d="M473.07,452.19 L476.56,451.70 L480.05,451.20 L483.54,450.70 L487.03,450.19 L490.52,449.67 L494.01,449.14 L497.50,448.61 L500.99,448.08 L504.48,447.53 L507.97,446.98 L511.46,446.42 L514.95,445.86 L518.44,445.28 L521.93,444.71 L525.42,444.12 L528.91,443.53 L532.40,442.93 L535.89,442.33 L539.38,441.72 L542.87,441.10 L546.36,440.48 L549.85,439.85 L553.34,439.22 L556.83,438.58 L560.32,437.93 L563.81,437.28 L567.30,436.62 L570.79,435.96 L574.28,435.28 L577.77,434.61 L581.26,433.93 L584.75,433.24 L588.24,432.55 L591.73,431.85 L595.22,431.14 L598.71,430.43 L602.20,429.72 L605.69,428.99 L609.18,428.27 L612.67,427.53 L616.16,426.80 L619.65,426.05 L623.14,425.31 L626.63,424.55 L630.12,423.79 L633.61,423.03 L637.10,422.26 L640.59,421.49 L644.08,420.71 L647.57,419.93 L651.06,419.14 L654.55,418.34 L658.04,417.55 L661.53,416.74 L665.02,415.94 L668.51,415.12 L672.00,414.31 L675.49,413.48 L678.98,412.66" stroke="#f01515" stroke-width="2.4" fill="none"/>
<path d="M473.07,450.65 L476.56,449.59 L480.05,448.45 L483.54,447.21 L487.03,445.89 L490.52,444.49 L494.01,443.01 L497.50,441.45 L500.99,439.81 L504.48,438.10 L507.97,436.31 L511.46,434.46 L514.95,432.53 L518.44,430.54 L521.93,428.48 L525.42,426.36 L528.91,424.18 L532.40,421.94 L535.89,419.64 L539.38,417.28 L542.87,414.87 L546.36,412.41 L549.85,409.90 L553.34,407.34 L556.83,404.74 L560.32,402.09 L563.81,399.40 L567.30,396.67 L570.79,393.90 L574.28,391.10 L577.77,388.26 L581.26,385.39 L584.75,382.48 L588.24,379.55 L591.73,376.60 L595.22,373.61 L598.71,370.61 L602.20,367.58 L605.69,364.54 L609.18,361.48 L612.67,358.40 L616.16,355.31 L619.65,352.21 L623.14,349.10 L626.63,345.98 L630.12,342.86 L633.61,339.73 L637.10,336.61 L640.59,333.48 L644.08,330.35 L647.57,327.23 L651.06,324.12 L654.55,321.01 L658.04,317.91 L661.53,314.83 L665.02,311.76 L668.51,308.70 L672.00,305.67 L675.49,302.65 L678.98,299.65" stroke="#1010e0" stroke-width="2.4" fill="none"/>
<circle cx="479.70" cy="459.47" r="4.4" fill="none" stroke="#f07a7a" stroke-width="1.05"/>
<circle cx="507.32" cy="440.52" r="4.4" fill="none" stroke="#f07a7a" stroke-width="1.05"/>
<circle cx="534.94" cy="440.52" r="4.4" fill="none" stroke="#f07a7a" stroke-width="1.05"/>
<circle cx="562.56" cy="441.04" r="4.4" fill="none" stroke="#f07a7a" stroke-width="1.05"/>
<circle cx="590.18" cy="419.90" r="4.4" fill="none" stroke="#f07a7a" stroke-width="1.05"/>
<circle cx="617.80" cy="431.63" r="4.4" fill="none" stroke="#f07a7a" stroke-width="1.05"/>
<circle cx="645.42" cy="411.65" r="4.4" fill="none" stroke="#f07a7a" stroke-width="1.05"/>
<circle cx="673.04" cy="429.43" r="4.4" fill="none" stroke="#f07a7a" stroke-width="1.05"/>
<circle cx="479.70" cy="433.95" r="4.4" fill="none" stroke="#7878f0" stroke-width="1.05"/>
<circle cx="507.32" cy="411.00" r="4.4" fill="none" stroke="#7878f0" stroke-width="1.05"/>
<circle cx="534.94" cy="407.13" r="4.4" fill="none" stroke="#7878f0" stroke-width="1.05"/>
<circle cx="562.56" cy="381.61" r="4.4" fill="none" stroke="#7878f0" stroke-width="1.05"/>
<circle cx="590.18" cy="377.62" r="4.4" fill="none" stroke="#7878f0" stroke-width="1.05"/>
<circle cx="617.80" cy="372.46" r="4.4" fill="none" stroke="#7878f0" stroke-width="1.05"/>
<circle cx="645.42" cy="370.01" r="4.4" fill="none" stroke="#7878f0" stroke-width="1.05"/>
<circle cx="673.04" cy="353.13" r="4.4" fill="none" stroke="#7878f0" stroke-width="1.05"/>
<path d="M473.1,265.8 L679.7,265.8 L679.7,472.1 L473.1,472.1 Z" fill="none" stroke="#3d3d3d" stroke-width="1.4"/>
<path d="M479.70,472.1 L479.70,468.6" stroke="#3d3d3d" stroke-width="1.2"/>
<path d="M507.32,472.1 L507.32,468.6" stroke="#3d3d3d" stroke-width="1.2"/>
<path d="M534.94,472.1 L534.94,468.6" stroke="#3d3d3d" stroke-width="1.2"/>
<path d="M562.56,472.1 L562.56,468.6" stroke="#3d3d3d" stroke-width="1.2"/>
<path d="M590.18,472.1 L590.18,468.6" stroke="#3d3d3d" stroke-width="1.2"/>
<path d="M617.80,472.1 L617.80,468.6" stroke="#3d3d3d" stroke-width="1.2"/>
<path d="M645.42,472.1 L645.42,468.6" stroke="#3d3d3d" stroke-width="1.2"/>
<path d="M673.04,472.1 L673.04,468.6" stroke="#3d3d3d" stroke-width="1.2"/>
<path d="M473.1,446.32 L476.6,446.32" stroke="#3d3d3d" stroke-width="1.2"/>
<path d="M473.1,420.54 L476.6,420.54" stroke="#3d3d3d" stroke-width="1.2"/>
<path d="M473.1,394.76 L476.6,394.76" stroke="#3d3d3d" stroke-width="1.2"/>
<path d="M473.1,368.98 L476.6,368.98" stroke="#3d3d3d" stroke-width="1.2"/>
<path d="M473.1,343.20 L476.6,343.20" stroke="#3d3d3d" stroke-width="1.2"/>
<path d="M473.1,317.42 L476.6,317.42" stroke="#3d3d3d" stroke-width="1.2"/>
<path d="M473.1,291.64 L476.6,291.64" stroke="#3d3d3d" stroke-width="1.2"/>
<g font-family='"Liberation Sans", sans-serif' font-size="12.2" fill="#111" text-anchor="end">
<text x="470.9" y="476.50">0</text>
<text x="470.9" y="450.72">2</text>
<text x="470.9" y="424.94">4</text>
<text x="470.9" y="399.16">6</text>
<text x="470.9" y="373.38">8</text>
<text x="470.9" y="347.60">10</text>
<text x="470.9" y="321.82">12</text>
<text x="470.9" y="296.04">14</text>
<text x="470.9" y="270.26">16</text>
</g>
<g font-family='"Liberation Sans", sans-serif' font-size="12.2" fill="#111" text-anchor="middle">
<text x="479.70" y="486.3">2</text>
<text x="507.32" y="486.3">4</text>
<text x="534.94" y="486.3">6</text>
<text x="562.56" y="486.3">8</text>
<text x="590.18" y="486.3">10</text>
<text x="617.80" y="486.3">12</text>
<text x="645.42" y="486.3">14</text>
<text x="673.04" y="486.3">16</text>
</g>
<text transform="translate(450.6,369.3) rotate(-90)" text-anchor="middle" font-family='"Liberation Sans", sans-serif' font-size="12.2" fill="#111">Δ<tspan font-style="italic">V</tspan> (V)</text>
<text x="550" y="506.2" font-family='"Liberation Sans", sans-serif' font-size="12.5" fill="#111"><tspan font-style="italic" font-size="12.5">V</tspan><tspan font-size="8.6" dy="2.6">G,max</tspan><tspan dy="-2.6" font-size="12"> (V)</tspan></text>
<path d="M478.8,276.5 L489.3,276.5" stroke="#f01515" stroke-width="2.2"/>
<path d="M478.8,288.1 L489.3,288.1" stroke="#1010e0" stroke-width="2.2"/>
<circle cx="484.1" cy="299.7" r="3.4" fill="none" stroke="#f07a7a" stroke-width="1"/>
<circle cx="484.1" cy="311.1" r="3.4" fill="none" stroke="#7878f0" stroke-width="1"/>
<g font-family='"Liberation Sans", sans-serif' font-size="10.4" fill="#1e1e1e">
<text x="493.8" y="279.6">Calculation (Flat)</text>
<text x="493.8" y="290.9">Calculation (Bubble 4nm)</text>
<text x="493.8" y="302.6">Measurement (Flat)</text>
<text x="493.8" y="314.0">Measurement (Bubble 4nm)</text>
</g>
</svg></body></html>
